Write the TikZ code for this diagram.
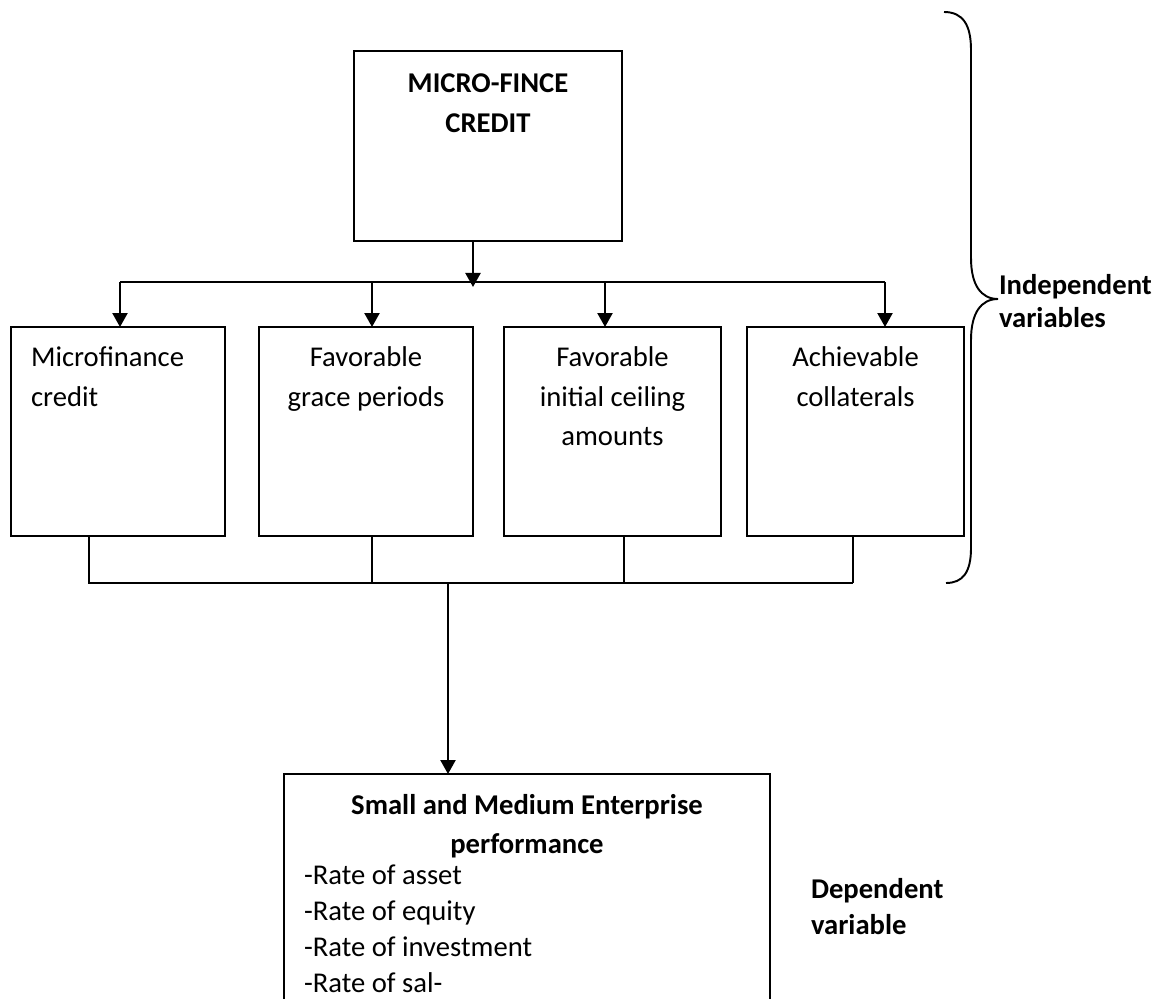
\documentclass[tikz,border=0pt]{standalone}
\usepackage{fontspec}
\setmainfont{Carlito}
\usetikzlibrary{arrows.meta}

\begin{document}
\begin{tikzpicture}[x=0.02cm, y=-0.02cm,
  box/.style={draw, line width=1.1pt, inner sep=0pt, outer sep=0pt, minimum height=4.18cm},
  txt/.style={inner sep=0pt, outer sep=0pt, font=\fontsize{16.3}{22.5}\selectfont},
  btxt/.style={inner sep=0pt, outer sep=0pt, font=\fontsize{16.3}{22.5}\selectfont\bfseries},
  arr/.style={line width=1.3pt, -{Triangle[length=0.28cm, width=0.3cm]}},
  wire/.style={line width=1.1pt}]
\clip (0,0) rectangle (1165,999);

\node[box, minimum width=5.36cm, minimum height=3.8cm] (mfc) at (488,146) {};
\node[box, minimum width=4.28cm] (credit) at (118,431.5) {};
\node[box, minimum width=4.28cm] (grace) at (366,431.5) {};
\node[box, minimum width=4.34cm] (ceiling) at (612.5,431.5) {};
\node[box, minimum width=4.34cm] (collat) at (855.5,431.5) {};
\node[box, minimum width=9.72cm, minimum height=5.32cm] (sme) at (527,907) {};

\node[btxt, anchor=north, align=center] (mfcText) at ([yshift=-0.46cm]mfc.north) {MICRO-FINCE\\CREDIT};
\node[txt, anchor=north west, align=left] (creditText) at ([xshift=0.4cm, yshift=-0.4cm]credit.north west) {Microfinance\\credit};
\node[txt, anchor=north, align=center] (graceText) at ([yshift=-0.4cm]grace.north) {Favorable\\grace periods};
\node[txt, anchor=north, align=center] (ceilingText) at ([yshift=-0.4cm]ceiling.north) {Favorable\\initial ceiling\\amounts};
\node[txt, anchor=north, align=center] (collatText) at ([yshift=-0.4cm]collat.north) {Achievable\\collaterals};
\node[btxt, anchor=north, align=center] (smeTitle) at ([yshift=-0.4cm]sme.north) {Small and Medium Enterprise\\performance};
\node[txt, anchor=north west, align=left, font=\fontsize{16.3}{20.5}\selectfont] (smeList) at (304,865) {-Rate of asset\\-Rate of equity\\-Rate of investment\\-Rate of sal-};
\node[btxt, anchor=north west, align=left, font=\fontsize{16.3}{19}\selectfont\bfseries] (indep) at (999,274) {Independent\\variables};
\node[btxt, anchor=north west, align=left, font=\fontsize{16.3}{20.5}\selectfont\bfseries] (dep) at (811,878) {Dependent\\variable};

\coordinate (fork) at (473,287);
\coordinate (a1) at (120,282);
\coordinate (a2) at (372,282);
\coordinate (a3) at (605,282);
\coordinate (a4) at (885,282);
\coordinate (s1) at (89,583);
\coordinate (s2) at (372,583);
\coordinate (s3) at (624,583);
\coordinate (s4) at (853,583);
\coordinate (join) at (448,583);

\draw[arr] (fork |- mfc.south) -- (fork);
\draw[wire] (a1) -- (a4);
\draw[arr] (a1) -- (a1 |- credit.north);
\draw[arr] (a2) -- (a2 |- grace.north);
\draw[arr] (a3) -- (a3 |- ceiling.north);
\draw[arr] (a4) -- (a4 |- collat.north);

\draw[wire] (s1 |- credit.south) -- (s1) -- (s4);
\draw[wire] (s2 |- grace.south) -- (s2);
\draw[wire] (s3 |- ceiling.south) -- (s3);
\draw[wire] (s4 |- collat.south) -- (s4);
\draw[arr] (join) -- (join |- sme.north);

\draw[wire] (944,12) .. controls (963,12) and (971,25) .. (971,50) -- (971,258)
  .. controls (971,285) and (981,299) .. (998,299)
  .. controls (981,299) and (971,313) .. (971,340) -- (971,548)
  .. controls (971,572) and (963,583) .. (946,583);
\end{tikzpicture}
\end{document}
